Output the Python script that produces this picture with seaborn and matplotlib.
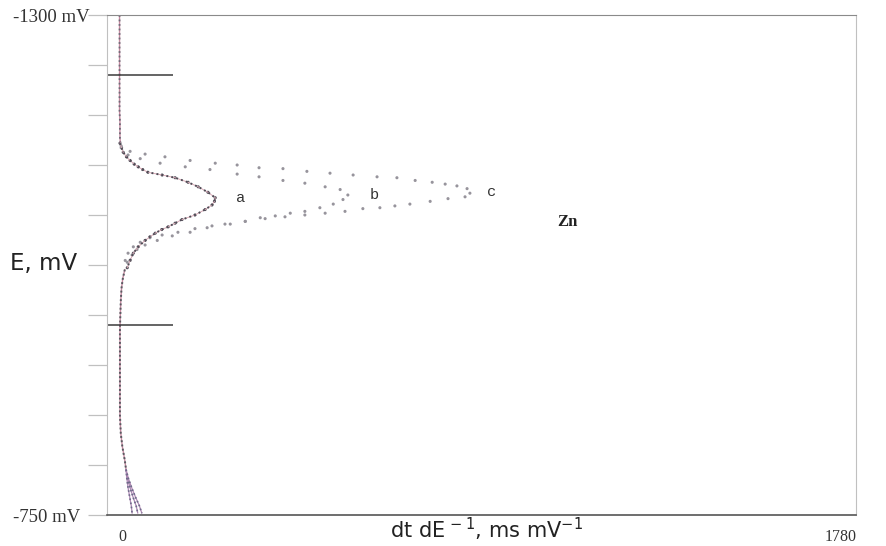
import numpy as np
import pandas as pd
import matplotlib.pyplot as plt
import seaborn as sns

sns.set_style("white")

# E in mV, dt/dE in ms/mV
# common baseline above the peaks
top_E = [-1300, -1285, -1270, -1255, -1240, -1225, -1210, -1195, -1182, -1172, -1165, -1160]
top_val = [1, 1, 1, 1, 1, 1, 1, 1, 2, 2, 2, 3]

# peak a
a_E = [-1159, -1154, -1149, -1144, -1140, -1136, -1133, -1130, -1127, -1124, -1121, -1116,
       -1111, -1105, -1099, -1095, -1091, -1086, -1080, -1075, -1071, -1067, -1064, -1060,
       -1056, -1052, -1045, -1038, -1030, -1022]
a_val = [2, 6, 10, 18, 27, 37, 47, 58, 71, 106, 138, 170,
         195, 219, 237, 235, 229, 212, 187, 155, 138, 121, 105, 89,
         76, 64, 47, 35, 27, 20]

# peak b
b_E = [-1154, -1146, -1142, -1137, -1133, -1130, -1125, -1122, -1118, -1115, -1111, -1108, -1102,
       -1097, -1092, -1088, -1084, -1082, -1079, -1077, -1073, -1070, -1068, -1065, -1061,
       -1058, -1055, -1050, -1045, -1038, -1030]
b_val = [5, 22, 52, 101, 163, 224, 291, 345, 404, 458, 508, 545, 564,
         552, 528, 495, 458, 422, 385, 348, 311, 274, 229, 187, 145,
         106, 76, 52, 35, 22, 15]

# peak c
c_E = [-1156, -1150, -1147, -1144, -1140, -1137, -1135, -1132, -1131, -1128, -1126, -1124,
       -1122, -1121, -1118, -1116, -1114, -1112, -1109, -1104,
       -1100, -1098, -1095, -1092, -1090, -1088, -1087, -1084, -1082, -1080, -1078, -1076,
       -1073, -1070, -1066, -1061, -1057, -1052, -1047, -1042, -1036, -1028]
c_val = [5, 27, 64, 113, 175, 237, 291, 345, 404, 463, 520, 577,
         636, 685, 730, 772, 804, 833, 858, 865,
         853, 811, 767, 717, 680, 643, 601, 557, 508, 458, 409, 360,
         311, 261, 217, 175, 131, 94, 64, 44, 32, 20]

# common baseline below the peaks
mid_E = [-1020, -1010, -1000, -985, -970, -955, -940, -920, -900, -880, -860, -840, -825, -810, -800]
mid_val = [14, 9, 6, 4, 3, 2, 2, 2, 2, 2, 2, 4, 8, 14, 17]

# tails spreading apart near -750 mV
tail_E = [-800, -790, -780, -770, -760, -752]
tail_a = [17, 19, 22, 26, 30, 32]
tail_b = [17, 21, 27, 34, 42, 46]
tail_c = [17, 23, 31, 40, 50, 56]

peaks = pd.concat([
    pd.DataFrame({"E": a_E, "val": a_val, "curve": "a"}),
    pd.DataFrame({"E": b_E, "val": b_val, "curve": "b"}),
    pd.DataFrame({"E": c_E, "val": c_val, "curve": "c"}),
])

fig = plt.figure(figsize=(8.87, 5.46), dpi=100)
ax = fig.add_axes([0.1206, 0.0568, 0.8444, 0.9157])

# shared baseline
sns.lineplot(x=top_val, y=top_E, sort=False, estimator=None, color="#c58aa0", lw=1.0, ax=ax)
sns.lineplot(x=top_val, y=top_E, sort=False, estimator=None, color="#6e6a78", lw=1.3,
             ls=(0, (1, 1.5)), ax=ax)
sns.lineplot(x=mid_val, y=mid_E, sort=False, estimator=None, color="#c58aa0", lw=1.0, ax=ax)
sns.lineplot(x=mid_val, y=mid_E, sort=False, estimator=None, color="#5a5a62", lw=1.4,
             ls=(0, (1, 1.2)), ax=ax)
for tv in (tail_a, tail_b, tail_c):
    sns.lineplot(x=tv, y=tail_E, sort=False, estimator=None, color="#b08ab5", lw=0.9, ax=ax)
    sns.lineplot(x=tv, y=tail_E, sort=False, estimator=None, color="#6e6a8a", lw=1.2,
                 ls=(0, (1, 1.5)), ax=ax)

# peak a drawn as a dense dotted trace
sns.lineplot(x=a_val, y=a_E, sort=False, estimator=None, color="#d7a8b4", lw=0.7, ax=ax)
sns.lineplot(x=a_val, y=a_E, sort=False, estimator=None, color="#4e4b55", lw=1.4,
             ls=(0, (1, 1.6)), ax=ax)

sns.scatterplot(data=peaks, x="val", y="E", hue="curve",
                palette={"a": "#55525c", "b": "#97949c", "c": "#97949c"},
                s=5, linewidth=0, legend=False, ax=ax)

# window markers
ax.hlines([-1234, -959], -30, 133, color="#3a3a3a", lw=1.1)

ax.set_xlim(-30, 1817)
ax.set_ylim(-750, -1300)
ax.set_xticks([])
ax.set_yticks(np.arange(-1300, -749, 55))
ax.set_yticklabels([])
ax.tick_params(axis="y", left=True, length=14, width=0.9, color="#c0c0c0", direction="out")
ax.set_xlabel("")
ax.set_ylabel("")

ax.spines["bottom"].set_color("#555555")
ax.spines["bottom"].set_linewidth(1.2)
ax.spines["top"].set_color("#8a8a8a")
ax.spines["left"].set_color("#c0c0c0")
ax.spines["right"].set_color("#c0c0c0")

serif = "Liberation Serif"
mono = ["Liberation Mono", "DejaVu Sans Mono"]
ax.text(289, -1099, "a", family=mono, fontsize=11, color="#333333", va="center")
ax.text(619, -1102, "b", family=mono, fontsize=11, color="#333333", va="center")
ax.text(907, -1105, "c", family=mono, fontsize=11, color="#333333", va="center")
ax.text(1080, -1072, "Zn", family=serif, fontsize=12, fontweight="bold", color="#222222", va="center")

fig.text(13 / 887, 1 - 17 / 546, "-1300 mV", family=serif, fontsize=13.5, color="#333333", va="center")
fig.text(13 / 887, 1 - 518 / 546, "-750 mV", family=serif, fontsize=13.5, color="#333333", va="center")
fig.text(10 / 887, 1 - 263 / 546, "E, mV", fontsize=16.5, color="#222222", va="center")
fig.text(122 / 887, 1 - 537 / 546, "0", family=serif, fontsize=11.5, color="#333333", ha="center", va="center")
fig.text(841 / 887, 1 - 537 / 546, "1780", family=serif, fontsize=11.5, color="#333333", ha="center", va="center")
fig.text(486 / 887, 1 - 529 / 546, r"dt dE$^{\,-1}$, ms mV$^{-1}$", fontsize=15, color="#222222",
         ha="center", va="center")

fig.savefig("out.png", dpi=100)
